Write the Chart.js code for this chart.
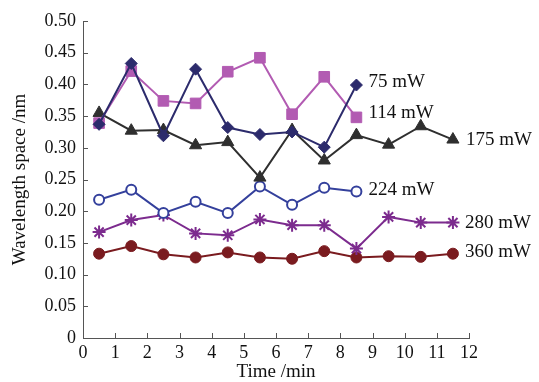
<!DOCTYPE html>
<html>
<head>
<meta charset="utf-8">
<script src="https://cdn.jsdelivr.net/npm/chart.js@4"></script>
<style>
  body { margin: 0; background: #fff; }
</style>
</head>
<body>
<canvas id="grafico" width="539" height="382"></canvas>
<script>
// minutes at which the spacing was measured
const tempos = [0.5, 1.5, 2.5, 3.5, 4.5, 5.5, 6.5, 7.5, 8.5, 9.5, 10.5, 11.5];

const potencias = ['75 mW', '114 mW', '175 mW', '224 mW', '280 mW', '360 mW'];

const s75 = [0.337, 0.433, 0.319, 0.424, 0.332, 0.321, 0.325, 0.301, 0.399];
const s114 = [0.339, 0.421, 0.374, 0.370, 0.420, 0.442, 0.353, 0.412, 0.348];
const s175 = [0.355, 0.327, 0.328, 0.304, 0.309, 0.253, 0.328, 0.280, 0.320, 0.305, 0.334, 0.313];
const s224 = [0.218, 0.234, 0.197, 0.215, 0.197, 0.239, 0.210, 0.237, 0.231];
const s280 = [0.167, 0.186, 0.194, 0.165, 0.162, 0.187, 0.178, 0.178, 0.141, 0.191, 0.182, 0.182];
const s360 = [0.133, 0.145, 0.132, 0.127, 0.135, 0.127, 0.125, 0.137, 0.127, 0.129, 0.128, 0.133];

const xTicks = [0, 1, 2, 3, 4, 5, 6, 7, 8, 9, 10, 11, 12];
const yTicks = [0, 0.05, 0.10, 0.15, 0.20, 0.25, 0.30, 0.35, 0.40, 0.45, 0.50];

const serif = "'Liberation Serif', 'DejaVu Serif', serif";

function pontos(valores) {
  return valores.map((v, i) => ({ x: tempos[i], y: v }));
}

function serie(nome, valores, cor, estilo, raio, fundo, borda) {
  return {
    label: nome,
    data: pontos(valores),
    borderColor: cor,
    backgroundColor: fundo || cor,
    pointBackgroundColor: fundo || cor,
    pointBorderColor: cor,
    pointBorderWidth: borda || 1,
    pointStyle: estilo,
    pointRadius: raio,
    borderWidth: 2,
    tension: 0,
    fill: false
  };
}

// how far each end label sits from its last point
const deslocLabel = [[12, -3], [12, -4], [13, 0], [12, -2], [12, 0], [12, -2]];

const rotulosFinais = {
  id: 'rotulosFinais',
  afterDatasetsDraw(chart) {
    const c = chart.ctx;
    c.save();
    c.font = "19px " + serif;
    c.fillStyle = '#111';
    c.textBaseline = 'middle';
    c.textAlign = 'left';
    chart.data.datasets.forEach((ds, i) => {
      const meta = chart.getDatasetMeta(i);
      const ult = meta.data[meta.data.length - 1];
      c.fillText(ds.label, ult.x + deslocLabel[i][0], ult.y + deslocLabel[i][1]);
    });
    c.restore();
  }
};

// tick marks pointing into the plot
const marcasInternas = {
  id: 'marcasInternas',
  afterDraw(chart) {
    const c = chart.ctx;
    const x = chart.scales.x;
    const y = chart.scales.y;
    const area = chart.chartArea;
    c.save();
    c.strokeStyle = '#555';
    c.lineWidth = 1;
    c.beginPath();
    yTicks.forEach(v => {
      const py = Math.round(y.getPixelForValue(v)) + 0.5;
      c.moveTo(area.left, py);
      c.lineTo(area.left + 5, py);
    });
    xTicks.forEach(v => {
      const px = Math.round(x.getPixelForValue(v)) + 0.5;
      c.moveTo(px, area.bottom);
      c.lineTo(px, area.bottom - 5);
    });
    c.stroke();
    c.restore();
  }
};

const ctx = document.getElementById('grafico');

const chart = new Chart(ctx, {
  type: 'line',
  data: {
    datasets: [
      serie(potencias[0], s75, '#2c2b6c', 'rectRot', 6),
      serie(potencias[1], s114, '#b25bb2', 'rect', 7.5),
      serie(potencias[2], s175, '#2f2f2f', 'triangle', 7),
      serie(potencias[3], s224, '#34409c', 'circle', 5, '#ffffff', 2),
      serie(potencias[4], s280, '#7c2b8e', 'star', 6.5, null, 2),
      serie(potencias[5], s360, '#7a1b1f', 'circle', 5.5)
    ]
  },
  options: {
    responsive: false,
    animation: false,
    layout: { padding: { top: 21, right: 70, left: 0, bottom: 0 } },
    plugins: {
      legend: { display: false },
      tooltip: { enabled: false }
    },
    scales: {
      x: {
        type: 'linear',
        min: 0,
        max: 12,
        afterFit(s) { s.height = 44; },
        afterBuildTicks(s) { s.ticks = xTicks.map(v => ({ value: v })); },
        grid: { display: true, drawOnChartArea: false, drawTicks: false },
        border: { display: true, color: '#555', width: 1 },
        ticks: {
          color: '#111',
          padding: 4,
          font: { family: serif, size: 18 },
          maxRotation: 0,
          autoSkip: false
        },
        title: {
          display: true,
          text: 'Time /min',
          color: '#111',
          font: { family: serif, size: 19 },
          padding: { top: 0, bottom: -1 }
        }
      },
      y: {
        min: 0,
        max: 0.5,
        afterFit(s) { s.width = 83; },
        afterBuildTicks(s) { s.ticks = yTicks.map(v => ({ value: v })); },
        grid: { display: true, drawOnChartArea: false, drawTicks: false },
        border: { display: true, color: '#555', width: 1 },
        ticks: {
          color: '#111',
          padding: 7,
          font: { family: serif, size: 18 },
          callback: v => v === 0 ? '0' : v.toFixed(2)
        },
        title: {
          display: true,
          text: 'Wavelength space /nm',
          color: '#111',
          font: { family: serif, size: 19 },
          padding: { top: 9, bottom: 0 }
        }
      }
    }
  },
  plugins: [rotulosFinais, marcasInternas]
});
</script>
</body>
</html>
